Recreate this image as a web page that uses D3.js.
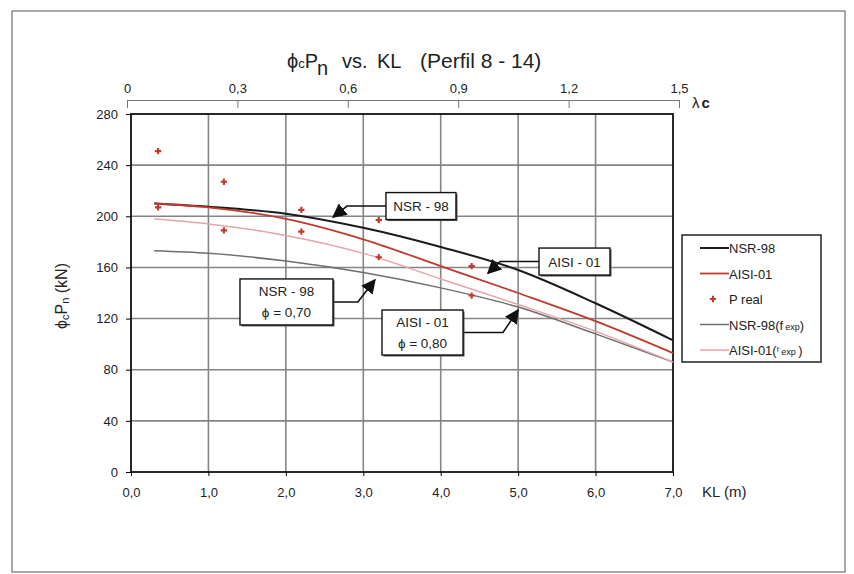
<!DOCTYPE html>
<html>
<head>
<meta charset="utf-8">
<script src="https://cdn.jsdelivr.net/npm/d3@7"></script>
<style>
  body { margin: 0; background: #fff; }
  svg { font-family: "Liberation Sans", Arial, sans-serif; }
  text { fill: #222; }
</style>
</head>
<body>
<svg id="chart"></svg>
<script>
// KL (m) where the design curves are evaluated
const kl = [0.3, 1, 2, 3, 4, 5, 6, 7];
const nsr98 = [210, 207.5, 202, 191, 176, 158, 132, 103];
const aisi01 = [210, 207, 198, 182, 161, 140, 118, 93];
const nsr98Fexp = [173, 171, 165, 156, 144, 129, 108, 86];
const aisi01Fexp = [198, 194, 185, 171, 151, 131, 110, 86];

// test results (P real)
const realKL = [0.35, 0.35, 1.2, 1.2, 2.2, 2.2, 3.2, 3.2, 4.4, 4.4];
const realP = [251, 207, 227, 189, 205, 188, 197, 168, 161, 138];

const xTicks = [0, 1, 2, 3, 4, 5, 6, 7];
const yTicks = [0, 40, 80, 120, 160, 200, 240, 280];
const lambdaTicks = [0, 0.3, 0.6, 0.9, 1.2, 1.5];

// callout boxes: label lines, box centre, elbow and arrow tip (data units)
const callouts = [
  {lines: ['NSR - 98'], box: [3.745, 208], w: 70, h: 27, elbow: [2.79, 208], tip: [2.61, 199.4], side: 'left'},
  {lines: ['NSR - 98', '\u03d5 = 0,70'], box: [2.008, 133], w: 93, h: 46, elbow: [2.93, 133], tip: [3.15, 150.2], side: 'right'},
  {lines: ['AISI - 01'], box: [5.728, 164.6], w: 71, h: 27, elbow: [4.766, 164.6], tip: [4.61, 155.4], side: 'left'},
  {lines: ['AISI - 01', '\u03d5 = 0,80'], box: [3.765, 109.1], w: 81, h: 45, elbow: [4.804, 109.1], tip: [5.0, 126.7], side: 'right'}
];

const W = 854, H = 574;
const svg = d3.select('#chart').attr('width', W).attr('height', H);

// page frame
svg.append('rect')
  .attr('x', 12).attr('y', 11).attr('width', 833).attr('height', 561)
  .attr('fill', 'none').attr('stroke', '#555').attr('stroke-width', 1);

const x = d3.scaleLinear().domain([0, 7]).range([131, 673]);
const y = d3.scaleLinear().domain([0, 280]).range([472, 114]);
const xl = d3.scaleLinear().domain([0, 1.5]).range([127, 679]);

const fmt = v => v.toFixed(1).replace('.', ',');

// grid
const grid = svg.append('g');
grid.selectAll('.vg').data(xTicks.slice(1, -1)).enter().append('line')
  .attr('x1', d => x(d)).attr('x2', d => x(d))
  .attr('y1', y(0)).attr('y2', y(280))
  .attr('stroke', '#858585').attr('stroke-width', 1.6);
grid.selectAll('.hg').data(yTicks.slice(1, -1)).enter().append('line')
  .attr('x1', x(0)).attr('x2', x(7))
  .attr('y1', d => y(d)).attr('y2', d => y(d))
  .attr('stroke', '#858585').attr('stroke-width', 1.6);

// plot frame
svg.append('rect')
  .attr('x', x(0)).attr('y', y(280))
  .attr('width', x(7) - x(0)).attr('height', y(0) - y(280))
  .attr('fill', 'none').attr('stroke', '#111').attr('stroke-width', 1.8);

// axes
const yAxis = svg.append('g')
  .attr('transform', 'translate(' + x(0) + ',0)')
  .call(d3.axisLeft(y).tickValues(yTicks).tickSize(5).tickPadding(8).tickSizeOuter(0));
yAxis.select('.domain').remove();
yAxis.selectAll('text').attr('font-size', 13).attr('fill', '#222');

const xAxis = svg.append('g')
  .attr('transform', 'translate(0,' + y(0) + ')')
  .call(d3.axisBottom(x).tickValues(xTicks).tickFormat(fmt).tickSize(4).tickPadding(12).tickSizeOuter(0));
xAxis.select('.domain').remove();
xAxis.selectAll('text').attr('font-size', 13).attr('fill', '#222');

const topAxis = svg.append('g')
  .attr('transform', 'translate(0,100)')
  .call(d3.axisTop(xl).tickValues(lambdaTicks)
    .tickFormat(v => v === 0 ? '0' : fmt(v)).tickSize(-8).tickPadding(7).tickSizeOuter(0));
topAxis.select('.domain').attr('stroke', '#777');
topAxis.selectAll('line').attr('stroke', '#777');
topAxis.selectAll('text').attr('font-size', 13).attr('fill', '#222');

// axis titles
svg.append('text').attr('x', 702).attr('y', 497).attr('font-size', 15).text('KL (m)');
svg.append('text').attr('x', 692).attr('y', 108).attr('font-size', 15)
  .text('\u03bb').append('tspan').attr('dx', 2).attr('font-weight', 'bold').text('c');

const yl = svg.append('text')
  .attr('transform', 'translate(67,296) rotate(-90)')
  .attr('text-anchor', 'middle').attr('font-size', 16);
yl.append('tspan').text('\u03d5');
yl.append('tspan').attr('font-size', 11).attr('dy', 2).text('c');
yl.append('tspan').attr('dy', -2).text('P');
yl.append('tspan').attr('font-size', 11).attr('dy', 2).text('n');
yl.append('tspan').attr('dy', -2).text(' (kN)');

// title
const title = svg.append('text').attr('x', 287).attr('y', 68).attr('font-size', 20);
title.append('tspan').text('\u03d5');
title.append('tspan').attr('font-size', 13).text('c');
title.append('tspan').text('P');
title.append('tspan').attr('dx', -1).attr('dy', 7).text('n');
title.append('tspan').attr('x', 342).attr('dy', -7).text('vs.');
title.append('tspan').attr('x', 377).text('KL');
title.append('tspan').attr('x', 420).attr('font-size', 21).text('(Perfil 8 - 14)');

// curves
const series = [
  {name: 'nsr', values: nsr98, color: '#1b1b1b', width: 2},
  {name: 'aisi', values: aisi01, color: '#c0392b', width: 1.8},
  {name: 'nsrF', values: nsr98Fexp, color: '#6e6e6e', width: 1.5},
  {name: 'aisiF', values: aisi01Fexp, color: '#e8a3ab', width: 1.5}
];
const line = d3.line().x((d, i) => x(kl[i])).y(d => y(d)).curve(d3.curveMonotoneX);
svg.append('g').selectAll('path').data(series).enter().append('path')
  .attr('d', d => line(d.values))
  .attr('fill', 'none')
  .attr('stroke', d => d.color)
  .attr('stroke-width', d => d.width);

// test points
const cross = d3.symbol().type(d3.symbolCross).size(22);
svg.append('g').selectAll('path').data(realP).enter().append('path')
  .attr('d', cross)
  .attr('transform', (d, i) => 'translate(' + x(realKL[i]) + ',' + y(d) + ')')
  .attr('fill', '#c0392b');

// callouts
svg.append('defs').append('marker')
  .attr('id', 'arr').attr('viewBox', '0 0 10 10')
  .attr('refX', 9).attr('refY', 5)
  .attr('markerWidth', 9).attr('markerHeight', 9)
  .attr('orient', 'auto-start-reverse')
  .append('path').attr('d', 'M0,0L10,5L0,10z').attr('fill', '#111');

const co = svg.append('g').selectAll('g').data(callouts).enter().append('g');
co.append('polyline')
  .attr('points', d => {
    const cx = x(d.box[0]), cy = y(d.box[1]);
    const ex = d.side === 'left' ? cx - d.w / 2 : cx + d.w / 2;
    return [[ex, y(d.elbow[1])], [x(d.elbow[0]), y(d.elbow[1])], [x(d.tip[0]), y(d.tip[1])]].join(' ');
  })
  .attr('fill', 'none').attr('stroke', '#111').attr('stroke-width', 1.6)
  .attr('marker-end', 'url(#arr)');
co.append('rect')
  .attr('x', d => x(d.box[0]) - d.w / 2 + 1.5).attr('y', d => y(d.box[1]) - d.h / 2 + 1.5)
  .attr('width', d => d.w).attr('height', d => d.h)
  .attr('fill', '#555');
co.append('rect')
  .attr('x', d => x(d.box[0]) - d.w / 2).attr('y', d => y(d.box[1]) - d.h / 2)
  .attr('width', d => d.w).attr('height', d => d.h)
  .attr('fill', '#fff').attr('stroke', '#111').attr('stroke-width', 1.4);
co.each(function (d) {
  const g = d3.select(this);
  const n = d.lines.length;
  d.lines.forEach((t, i) => {
    g.append('text')
      .attr('x', x(d.box[0]))
      .attr('y', y(d.box[1]) + (i - (n - 1) / 2) * 21 + 5)
      .attr('text-anchor', 'middle').attr('font-size', 13.5).text(t);
  });
});

// legend
const lg = svg.append('g');
lg.append('rect').attr('x', 682).attr('y', 235).attr('width', 139).attr('height', 127)
  .attr('fill', '#fff').attr('stroke', '#222').attr('stroke-width', 1.5);
const legendItems = [
  {s: series[0], label: ['NSR-98']},
  {s: series[1], label: ['AISI-01']},
  {s: null, label: ['P real']},
  {s: series[2], label: ['NSR-98(f', 'exp', ')']},
  {s: series[3], label: ['AISI-01(', 'f', ' exp ', ')']}
];
legendItems.forEach((it, i) => {
  const ly = 248 + i * 25.5;
  if (it.s) {
    lg.append('line').attr('x1', 700).attr('x2', 729).attr('y1', ly).attr('y2', ly)
      .attr('stroke', it.s.color).attr('stroke-width', it.s.width);
  } else {
    lg.append('path').attr('d', cross).attr('transform', 'translate(713,' + ly + ')')
      .attr('fill', '#c0392b');
  }
  const t = lg.append('text').attr('x', 729).attr('y', ly + 5).attr('font-size', 13)
    .style('white-space', 'pre');
  if (it.label.length === 1) {
    t.text(it.label[0]);
  } else if (it.label.length === 3) {
    t.append('tspan').text(it.label[0]);
    t.append('tspan').attr('font-size', 9).attr('dx', 2).text(it.label[1]);
    t.append('tspan').text(it.label[2]);
  } else {
    t.append('tspan').text(it.label[0]);
    t.append('tspan').attr('font-size', 7).attr('dy', -3).text(it.label[1]);
    t.append('tspan').attr('font-size', 9).attr('dy', 3).text(it.label[2]);
    t.append('tspan').text(it.label[3]);
  }
});
</script>
</body>
</html>
